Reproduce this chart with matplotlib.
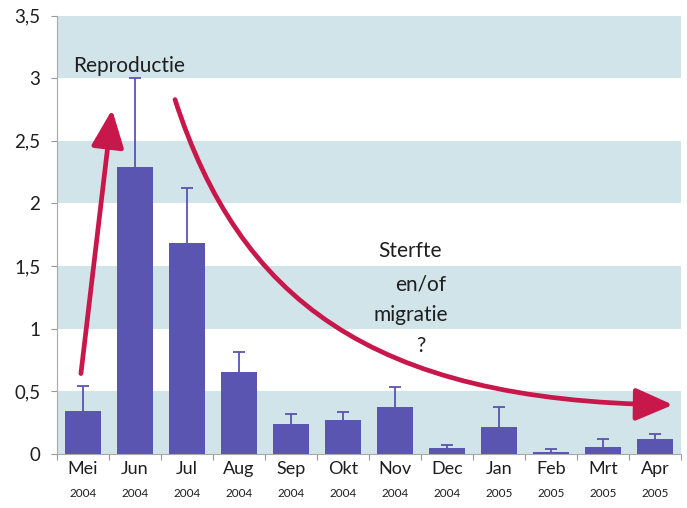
import matplotlib

matplotlib.use("Agg")
import matplotlib.pyplot as plt  # noqa: E402
import numpy as np  # noqa: E402
from matplotlib.patches import FancyArrowPatch  # noqa: E402
from matplotlib.path import Path  # noqa: E402
from matplotlib.transforms import blended_transform_factory  # noqa: E402

months = ["Mei", "Jun", "Jul", "Aug", "Sep", "Okt", "Nov", "Dec", "Jan", "Feb", "Mrt", "Apr"]
years = ["2004"] * 8 + ["2005"] * 4
means = [0.34, 2.29, 1.68, 0.65, 0.24, 0.27, 0.37, 0.045, 0.21, 0.01, 0.05, 0.12]
upper = [0.54, 3.00, 2.12, 0.81, 0.32, 0.33, 0.53, 0.07, 0.37, 0.04, 0.12, 0.16]

BAR = "#5a55b0"
RED = "#c8174a"
BAND = "#d0e4ea"
INK = "#1e1e1e"

plt.rcParams["font.family"] = ["Lato", "DejaVu Sans"]

fig = plt.figure(figsize=(6.87, 5.08), dpi=100)
ax = fig.add_axes([0.083, 0.107, 0.908, 0.862])

x = np.arange(len(months))

# alternating horizontal bands
for lo in np.arange(0, 3.5, 1.0):
    ax.axhspan(lo, lo + 0.5, color=BAND, zorder=0, lw=0)

ax.bar(x, means, width=0.7, color=BAR, zorder=2)
# upper-only error bars
ax.vlines(x, means, upper, color=BAR, lw=1.3, zorder=3)
ax.hlines(upper, x - 0.12, x + 0.12, color=BAR, lw=1.3, zorder=3)

ax.set_xlim(-0.5, 11.5)
ax.set_ylim(0, 3.5)
yt = np.arange(0, 3.51, 0.5)
ax.set_yticks(yt)
ax.set_yticklabels([f"{v:g}".replace(".", ",") for v in yt], fontsize=13.5, color=INK)
ax.tick_params(axis="y", length=4, color="#999999", pad=8)

ax.set_xticks(np.arange(-0.5, 11.6, 1.0))
ax.set_xticklabels([])
ax.tick_params(axis="x", length=4, color="#999999")

for side in ["top", "right"]:
    ax.spines[side].set_visible(False)
for side in ["left", "bottom"]:
    ax.spines[side].set_color("#aaaaaa")

trans = blended_transform_factory(ax.transData, ax.transAxes)
for xi, m, yr in zip(x, months, years):
    ax.text(xi, -0.016, m, transform=trans, ha="center", va="top",
            fontsize=13, color=INK)
    ax.text(xi, -0.078, yr, transform=trans, ha="center", va="top",
            fontsize=8.5, color=INK)

# annotations
tkw = dict(ha="center", va="center", fontsize=15, color=INK)
ax.text(0.88, 3.1, "Reproductie", **tkw)
ax.text(6.3, 1.62, "Sterfte", **tkw)
ax.text(6.5, 1.35, "en/of", **tkw)
ax.text(6.3, 1.11, "migratie", **tkw)
ax.text(6.5, 0.86, "?", **tkw)

head = "-|>,head_length=23,head_width=10"
up = FancyArrowPatch((-0.04, 0.64), (0.56, 2.75), arrowstyle=head,
                     color=RED, lw=3.4, zorder=4, shrinkA=0, shrinkB=0)
ax.add_patch(up)

curve = Path([(1.77, 2.83), (3.0, 1.25), (5.5, 0.42), (11.35, 0.39)],
             [Path.MOVETO, Path.CURVE4, Path.CURVE4, Path.CURVE4])
down = FancyArrowPatch(path=curve, arrowstyle=head,
                       color=RED, lw=3.4, zorder=4, shrinkA=0, shrinkB=0)
ax.add_patch(down)

fig.savefig("out.png", dpi=100)
